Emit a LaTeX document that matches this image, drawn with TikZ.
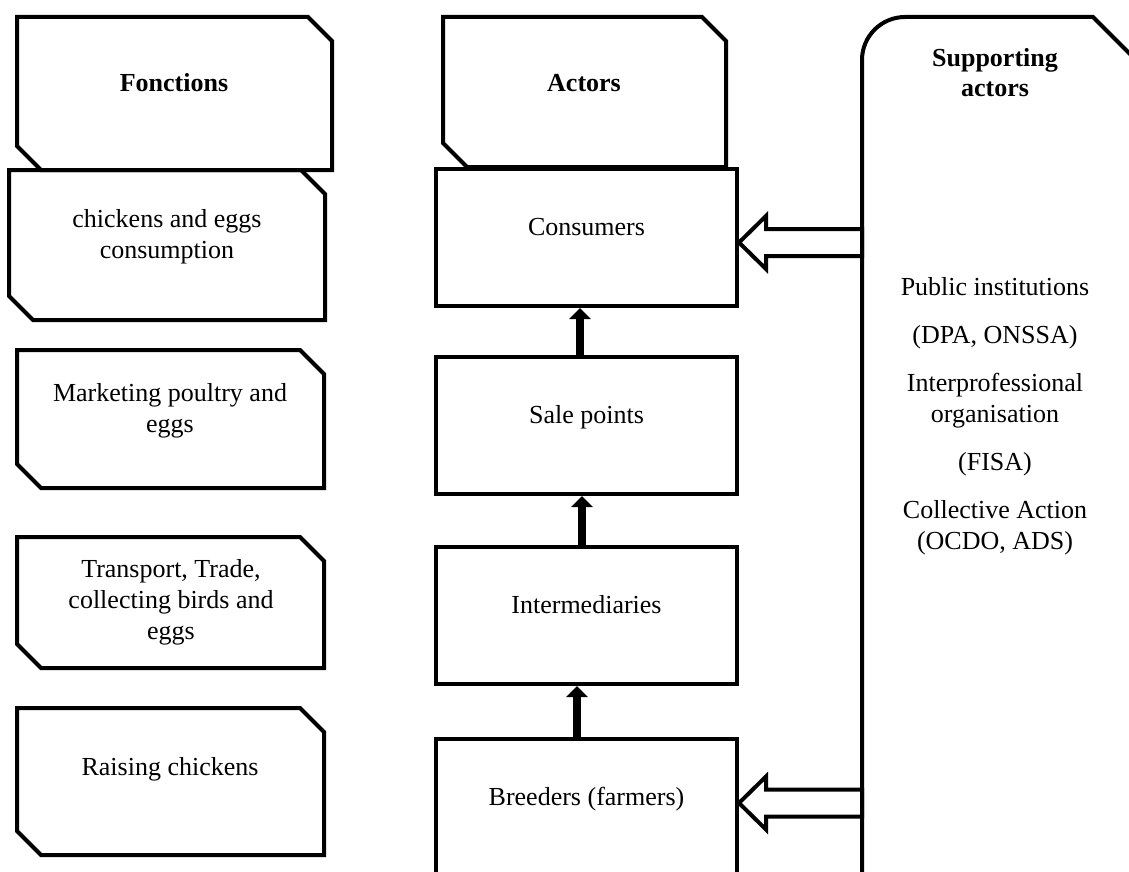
\documentclass[tikz,border=0pt]{standalone}
\usepackage{fontspec}
\setmainfont{Liberation Serif}
\usetikzlibrary{calc, arrows.meta, positioning}

\begin{document}
\begin{tikzpicture}[x=0.5pt, y=-0.5pt, >={Triangle[width=10.5pt,length=5.5pt]},
    every node/.style={font=\fontsize{13pt}{15.5pt}\selectfont, align=center},
    head/.style={font=\fontsize{13pt}{15pt}\selectfont\bfseries},
    frame/.style={line width=2pt},
    actorbox/.style={draw, line width=2pt, minimum width=150.5pt, minimum height=68.5pt,
        text height=8pt, text depth=10.5pt},
    uparrow/.style={line width=4.4pt, ->},
    hollowarrow/.style={draw, line width=2pt, fill=white}]
                % 1. Page
                \clip (0,0) rectangle (1129,872);
                
                % 2. Cut-corner boxes (fonctions column and actors header)
                \foreach \xa/\ya/\xb/\yb in {17/17/332/170, 9/170/325/320, 17/350/324/488,
                        17/537/324/668, 17/708/324/855, 443/17/726/167} {
                    \draw[frame] (\xa,\ya) -- (\xb-24,\ya) -- (\xb,\ya+24) -- (\xb,\yb)
                        -- (\xa+24,\yb) -- (\xa,\yb-24) -- cycle;
                }
                \node[head, anchor=base] (fonc) at (174,92) {Fonctions};
                \node (consum) at (167,236.5) {chickens and eggs\\consumption};
                \node (market) at (170,411) {Marketing poultry and\\eggs};
                \node (trans) at (171,602) {Transport, Trade,\\collecting birds and\\eggs};
                \node[anchor=base] (raise) at (170,775) {Raising chickens};
                \node[head, anchor=base] (actors) at (584,92) {Actors};
                
                % 3. Actors chain
                \node[actorbox] (cons) at (586.5,237.5) {Consumers};
                \node[actorbox] (sale) at (586.5,425.5) {Sale points};
                \node[actorbox] (inter) at (586.5,615.5) {Intermediaries};
                \node[actorbox] (breed) at (586.5,807.5) {Breeders (farmers)};
                \draw[uparrow] ([xshift=-3.25pt]sale.north) -- ([xshift=-3.25pt]cons.south);
                \draw[uparrow] ([xshift=-2.25pt]inter.north) -- ([xshift=-2.25pt]sale.south);
                \draw[uparrow] ([xshift=-4.75pt]breed.north) -- ([xshift=-4.75pt]inter.south);
                
                % 4. Supporting actors
                \draw[frame] (862,900) -- (862,60) arc[start angle=180, end angle=270, radius=43]
                    -- (1093,17) -- (1160,84) -- (1160,900);
                \coordinate (suppw) at (862,0);
                \node[head] (supphead) at (995,73) {Supporting\\actors};
                \node (supptext) at (995,416) {Public institutions\\[8.5pt] (DPA, ONSSA)\\[8.5pt]
                    Interprofessional\\organisation\\[8.5pt] (FISA)\\[8.5pt]
                    Collective Action\\(OCDO, ADS)};
                
                % 5. Block arrows
                \coordinate (tipc) at ($(cons.east)+(0,5)$);
                \coordinate (tipb) at ($(breed.east)+(0,-4.5)$);
                \foreach \t in {tipc, tipb} {
                    \draw[hollowarrow] (\t) -- ++(27,-26.5) -- ++(0,13)
                        -- ($(\t -| suppw)+(0,-13.5)$) -- ($(\t -| suppw)+(0,13.5)$)
                        -- ($(\t)+(27,13.5)$) -- ($(\t)+(27,26.5)$) -- cycle;
                }
            \end{tikzpicture}
\end{document}
